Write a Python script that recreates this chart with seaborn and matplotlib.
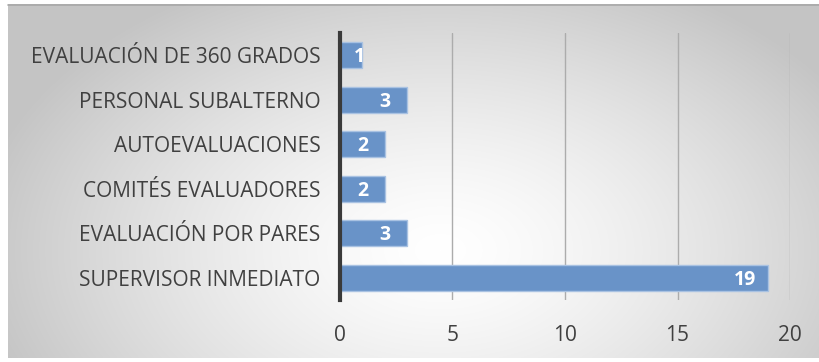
import matplotlib
matplotlib.use('Agg')
from matplotlib import pyplot as plt
import seaborn as sns
import numpy as np
import pandas as pd

# datos
categorias = ['EVALUACIÓN DE 360 GRADOS', 'PERSONAL SUBALTERNO', 'AUTOEVALUACIONES',
              'COMITÉS EVALUADORES', 'EVALUACIÓN POR PARES', 'SUPERVISOR INMEDIATO']
valores = [1, 3, 2, 2, 3, 19]
ticks_x = [0, 5, 10, 15, 20]

df = pd.DataFrame({'categoria': categorias, 'valor': valores})

sns.set_style('white')
plt.rcParams['font.family'] = ['Open Sans', 'DejaVu Sans']

fig = plt.figure(figsize=(8.2, 3.62), dpi=100)

# fondo con degradado radial (zona de 8..820 x 4..358)
bg = fig.add_axes([0, 0, 1, 1], zorder=0)
yy, xx = np.mgrid[0:354, 0:812]
xx = xx + 8
yy = yy + 4
d = np.sqrt(((xx - 440) / 470.0) ** 2 + ((yy - 250) / 300.0) ** 2)
g = np.clip(1.0 - 0.23 * d ** 1.4, 0.77, 1.0)
bg.imshow(np.dstack([g, g, g]), aspect='auto', extent=[8, 820, 358, 4])
bg.plot([8, 820], [4.5, 4.5], color='#a8a8a8', lw=1.2)
bg.set_xlim(0, 820)
bg.set_ylim(362, 0)
bg.axis('off')

ax = fig.add_axes([340 / 820, 1 - 300 / 362, 450 / 820, 267 / 362], zorder=1)
ax.patch.set_alpha(0)

sns.barplot(data=df, y='categoria', x='valor', orient='h', color='#6993c8',
            edgecolor='#a9c2e2', linewidth=1, width=0.58, saturation=1, ax=ax)

for spine in ['top', 'right', 'bottom']:
    ax.spines[spine].set_visible(False)
ax.spines['left'].set_color('#3a3a3a')
ax.spines['left'].set_linewidth(3)

ax.set_xlim(0, 20)
ax.set_ylim(5.5, -0.5)
ax.set_xticks(ticks_x)
ax.xaxis.grid(True, color='#acacac', lw=1)
ax.set_axisbelow(True)
ax.tick_params(axis='x', length=0, pad=18, labelsize=15, labelcolor='#404040')
ax.tick_params(axis='y', length=0, pad=14, labelsize=15, labelcolor='#404040')
ax.set_xlabel('')
ax.set_ylabel('')

# etiquetas de datos dentro del extremo de la barra
for i, v in enumerate(valores):
    ax.text(max(v - 1.0, 0.85), i + 0.05, str(v), ha='center', va='center', color='white',
            fontsize=14, fontweight='bold')

fig.savefig('out.png', dpi=100)
